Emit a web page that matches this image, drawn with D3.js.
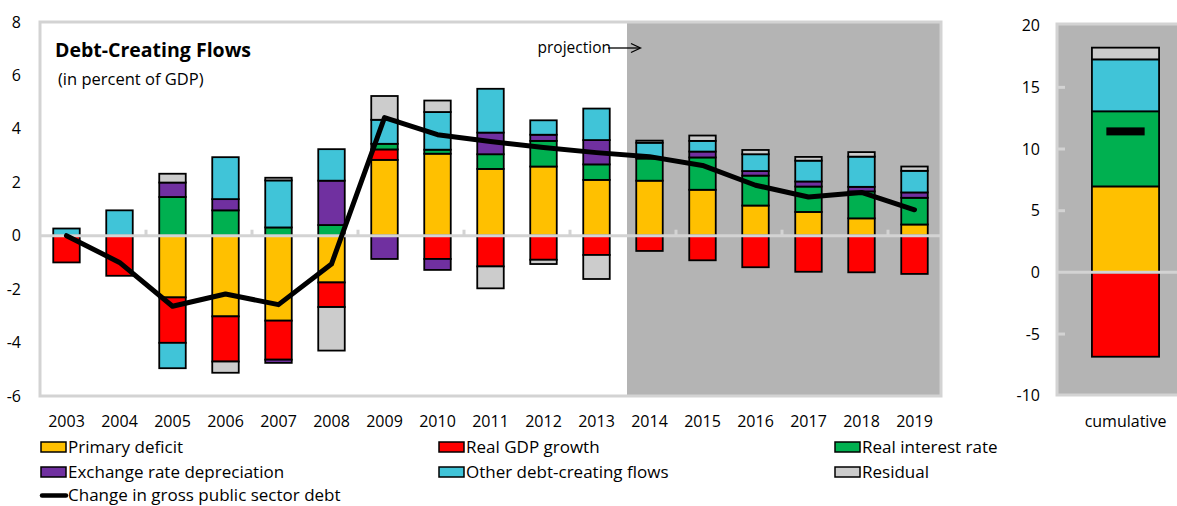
<!DOCTYPE html>
<html>
<head>
<meta charset="utf-8">
<script src="https://cdn.jsdelivr.net/npm/d3@7"></script>
<style>
  html, body { margin: 0; padding: 0; background: #fff; }
  svg { display: block; font-family: "Open Sans", "Noto Sans", sans-serif; }
</style>
</head>
<body>
<svg id="chart" width="1177" height="506"></svg>
<script>
// ---------------- DATA ----------------
const years = ["2003","2004","2005","2006","2007","2008","2009","2010","2011","2012","2013","2014","2015","2016","2017","2018","2019"];
const firstProjectionYear = "2014";

const primaryDeficit  = [0, 0, -2.31, -3.02, -3.18, -1.75, 2.84, 3.07, 2.50, 2.59, 2.09, 2.06, 1.72, 1.13, 0.89, 0.65, 0.42];
const realGDPGrowth   = [-1.00, -1.50, -1.70, -1.69, -1.46, -0.92, 0.39, -0.87, -1.15, -0.90, -0.72, -0.57, -0.92, -1.18, -1.35, -1.37, -1.43];
const realInterest    = [0, 0, 1.45, 0.95, 0.31, 0.40, 0.21, 0.15, 0.55, 0.96, 0.58, 0.83, 1.21, 1.12, 0.95, 1.01, 1.00];
const exchangeRate    = [0, 0, 0.54, 0.42, -0.12, 1.66, -0.87, -0.41, 0.81, 0.23, 0.91, 0, 0.22, 0.17, 0.19, 0.17, 0.20];
const otherFlows      = [0.27, 0.95, -0.95, 1.57, 1.76, 1.18, 0.90, 1.41, 1.64, 0.54, 1.18, 0.59, 0.40, 0.63, 0.78, 1.13, 0.81];
const residual        = [0, 0, 0.33, -0.42, 0.10, -1.63, 0.89, 0.43, -0.82, -0.16, -0.90, 0.08, 0.20, 0.16, 0.14, 0.17, 0.16];
const debtChange      = [0, -1.00, -2.64, -2.18, -2.58, -1.06, 4.42, 3.78, 3.53, 3.30, 3.11, 2.96, 2.63, 1.89, 1.45, 1.62, 0.97];

const cumulativeCategory = ["cumulative"];
const cumPrimary   = [6.97];
const cumGDP       = [-6.84];
const cumInterest  = [6.09];
const cumExchange  = [0];
const cumOther     = [4.21];
const cumResidual  = [0.95];
const cumDebt      = [11.43];

const leftTicks  = [-6, -4, -2, 0, 2, 4, 6, 8];
const rightTicks = [-10, -5, 0, 5, 10, 15, 20];

const seriesNames  = ["Primary deficit", "Real GDP growth", "Real interest rate", "Exchange rate depreciation", "Other debt-creating flows", "Residual"];
const seriesColors = ["#FFC000", "#FF0000", "#00B050", "#7030A0", "#40C4D8", "#CCCCCC"];
const lineName = "Change in gross public sector debt";

// ---------------- HELPERS ----------------
const svg = d3.select("#chart");
const frameColor = "#d3d3d3";
const shade = "#b4b4b4";
const FONT = "Open Sans";
const keys = seriesNames.map((d, i) => "s" + i);
const color = d3.scaleOrdinal().domain(keys).range(seriesColors);
const plainFmt = d => String(d);

function buildRows(cats, arrays) {
  return cats.map((c, i) => {
    const r = { cat: c };
    arrays.forEach((a, k) => r["s" + k] = a[i]);
    return r;
  });
}
const stack = d3.stack().keys(keys).offset(d3.stackOffsetDiverging);

// ---------------- LEFT CHART ----------------
const L = { left: 40, right: 941, top: 22, bottom: 396 };
const x = d3.scaleBand().domain(years).range([L.left, L.right]).paddingInner(0.5).paddingOuter(0.25);
const y = d3.scaleLinear().domain([-6, 8]).range([L.bottom, L.top]);

const gL = svg.append("g");
// projection shading
const shadeStart = (x("2013") + x.bandwidth() + x(firstProjectionYear)) / 2 + 4;
gL.append("rect").attr("x", shadeStart).attr("y", L.top)
  .attr("width", L.right - shadeStart).attr("height", L.bottom - L.top).attr("fill", shade);
// frame
gL.append("rect").attr("x", L.left).attr("y", L.top)
  .attr("width", L.right - L.left).attr("height", L.bottom - L.top)
  .attr("fill", "none").attr("stroke", frameColor).attr("stroke-width", 3);

// y-axis labels
const yAxis = d3.axisLeft(y).tickValues(leftTicks).tickFormat(plainFmt).tickSize(0).tickPadding(19);
const ya = gL.append("g").attr("transform", `translate(${L.left},0)`).call(yAxis);
ya.select(".domain").remove();
ya.selectAll("text").attr("font-size", 16).attr("fill", "#000").attr("font-family", FONT);

// x-axis labels
const xAxis = d3.axisBottom(x).tickSize(0).tickPadding(20);
const xa = gL.append("g").attr("transform", `translate(0,${L.bottom})`).call(xAxis);
xa.select(".domain").remove();
xa.selectAll("text").attr("font-size", 16).attr("fill", "#000").attr("font-family", FONT);

// bars
const rowsL = buildRows(years, [primaryDeficit, realGDPGrowth, realInterest, exchangeRate, otherFlows, residual]);
const stackedL = stack(rowsL);
gL.append("g").selectAll("g").data(stackedL).join("g")
  .attr("fill", d => color(d.key))
  .selectAll("rect").data(d => d.filter(p => p[1] - p[0] !== 0)).join("rect")
  .attr("x", d => x(d.data.cat))
  .attr("width", x.bandwidth())
  .attr("y", d => y(Math.max(d[0], d[1])))
  .attr("height", d => Math.abs(y(d[0]) - y(d[1])))
  .attr("stroke", "#000").attr("stroke-width", 1.8);

// zero line + category tick marks
gL.append("line").attr("x1", L.left).attr("x2", L.right).attr("y1", y(0)).attr("y2", y(0))
  .attr("stroke", frameColor).attr("stroke-width", 3);
const tickYears = years.filter((d, i) => i > 0 && i % 2 === 0);
gL.selectAll(".ctick").data(tickYears).join("line")
  .attr("x1", d => x(d) - x.step() * x.paddingInner() / 2)
  .attr("x2", d => x(d) - x.step() * x.paddingInner() / 2)
  .attr("y1", y(0)).attr("y2", y(0) - 6)
  .attr("stroke", frameColor).attr("stroke-width", 3);

// debt line
const line = d3.line().x((d, i) => x(years[i]) + x.bandwidth() / 2).y(d => y(d));
gL.append("path").datum(debtChange).attr("d", line)
  .attr("fill", "none").attr("stroke", "#000").attr("stroke-width", 5)
  .attr("stroke-linejoin", "round").attr("stroke-linecap", "round");

// titles
gL.append("text").attr("x", 55).attr("y", 57).text("Debt-Creating Flows")
  .attr("font-size", 19.5).attr("font-weight", "bold").attr("font-family", FONT);
gL.append("text").attr("x", 58).attr("y", 85).text("(in percent of GDP)")
  .attr("font-size", 16.5).attr("font-family", FONT);

// projection label + arrow
gL.append("text").attr("x", 611).attr("y", 52.5).attr("text-anchor", "end").text("projection")
  .attr("font-size", 15.5).attr("font-family", FONT);
gL.append("line").attr("x1", 608).attr("x2", 640).attr("y1", 48).attr("y2", 48)
  .attr("stroke", "#000").attr("stroke-width", 1.3);
gL.append("path").attr("d", "M631,43.5 L640.5,48 L631,52.5").attr("fill", "none")
  .attr("stroke", "#000").attr("stroke-width", 1.3);

// ---------------- RIGHT CHART ----------------
const R = { left: 1057, right: 1194, top: 24, bottom: 395 };
const x2 = d3.scaleBand().domain(cumulativeCategory).range([R.left, R.right]).paddingInner(0.5).paddingOuter(0.26);
const y2 = d3.scaleLinear().domain([-10, 20]).range([R.bottom + 0.7, R.top + 1.7]);
const gR = svg.append("g");
gR.append("rect").attr("x", R.left).attr("y", R.top).attr("width", R.right - R.left).attr("height", R.bottom - R.top)
  .attr("fill", shade).attr("stroke", frameColor).attr("stroke-width", 3);

const y2Axis = d3.axisLeft(y2).tickValues(rightTicks).tickFormat(plainFmt).tickSize(0).tickPadding(17);
const y2a = gR.append("g").attr("transform", `translate(${R.left},0)`).call(y2Axis);
y2a.select(".domain").remove();
y2a.selectAll("text").attr("font-size", 16).attr("fill", "#000").attr("font-family", FONT);
gR.selectAll(".rtick").data(rightTicks.filter(d => d !== 0 && d !== 20 && d !== -10)).join("line")
  .attr("x1", R.left).attr("x2", R.left + 8).attr("y1", d => y2(d)).attr("y2", d => y2(d))
  .attr("stroke", frameColor).attr("stroke-width", 3);

const x2Axis = d3.axisBottom(x2).tickSize(0).tickPadding(20);
const x2a = gR.append("g").attr("transform", `translate(0,${L.bottom})`).call(x2Axis);
x2a.select(".domain").remove();
x2a.selectAll("text").attr("font-size", 16).attr("fill", "#000").attr("font-family", FONT);

const rowsR = buildRows(cumulativeCategory, [cumPrimary, cumGDP, cumInterest, cumExchange, cumOther, cumResidual]);
const stackedR = stack(rowsR);
gR.append("g").selectAll("g").data(stackedR).join("g")
  .attr("fill", d => color(d.key))
  .selectAll("rect").data(d => d.filter(p => p[1] - p[0] !== 0)).join("rect")
  .attr("x", d => x2(d.data.cat))
  .attr("width", x2.bandwidth())
  .attr("y", d => y2(Math.max(d[0], d[1])))
  .attr("height", d => Math.abs(y2(d[0]) - y2(d[1])))
  .attr("stroke", "#000").attr("stroke-width", 1.8);

gR.append("line").attr("x1", R.left).attr("x2", R.right).attr("y1", y2(0)).attr("y2", y2(0))
  .attr("stroke", frameColor).attr("stroke-width", 3);

// cumulative debt marker
const mw = x2.bandwidth() * 0.57;
gR.selectAll(".marker").data(cumDebt).join("rect")
  .attr("x", x2("cumulative") + (x2.bandwidth() - mw) / 2)
  .attr("width", mw)
  .attr("y", d => y2(d) - 4).attr("height", 8).attr("fill", "#000");

// ---------------- LEGEND ----------------
const legendPos = [[41, 447], [439, 447], [835, 447], [41, 472], [439, 472], [835, 472]];
const lg = svg.append("g");
seriesNames.forEach((n, i) => {
  const [lx, ly] = legendPos[i];
  lg.append("rect").attr("x", lx).attr("y", ly - 5).attr("width", 25).attr("height", 10)
    .attr("fill", seriesColors[i]).attr("stroke", "#000").attr("stroke-width", 1.5);
  lg.append("text").attr("x", lx + 27).attr("y", ly + 6).text(n)
    .attr("font-size", 17).attr("font-family", FONT);
});
lg.append("line").attr("x1", 42).attr("x2", 66).attr("y1", 495.5).attr("y2", 495.5)
  .attr("stroke", "#000").attr("stroke-width", 4.5).attr("stroke-linecap", "round");
lg.append("text").attr("x", 68).attr("y", 501).text(lineName)
  .attr("font-size", 17).attr("font-family", FONT);
</script>
</body>
</html>
